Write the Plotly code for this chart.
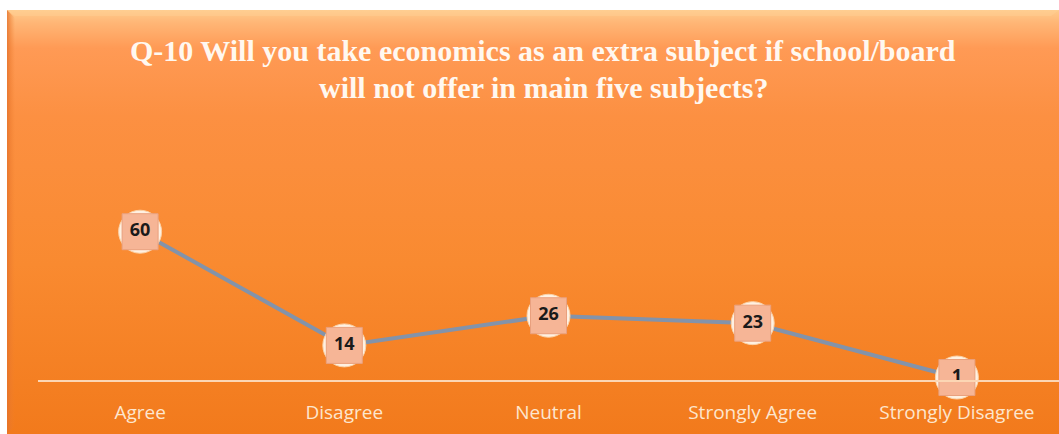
import base64
import plotly.graph_objects as go

categories = ["Agree", "Disagree", "Neutral", "Strongly Agree", "Strongly Disagree"]
values = [60, 14, 26, 23, 1]
title_lines = ["Q-10 Will you take economics as an extra subject if school/board",
               "will not offer in main five subjects?"]

W, H = 1059, 434
ML, MR, MT, MB = 38, 0, 207, 54
YMAX = 70

svg = f'''<svg xmlns="http://www.w3.org/2000/svg" width="1052" height="424" viewBox="0 0 1052 424" preserveAspectRatio="none">
<defs>
<linearGradient id="v" x1="0" y1="0" x2="0" y2="1">
<stop offset="0" stop-color="#FFCB8C"/>
<stop offset="0.03" stop-color="#FFB676"/>
<stop offset="0.09" stop-color="#FF9A55"/>
<stop offset="0.25" stop-color="#FC9042"/>
<stop offset="0.6" stop-color="#F98A30"/>
<stop offset="1" stop-color="#F27A1C"/>
</linearGradient>
<linearGradient id="l" x1="0" y1="0" x2="1" y2="0">
<stop offset="0" stop-color="#E4712A" stop-opacity="0.8"/>
<stop offset="1" stop-color="#F08030" stop-opacity="0"/>
</linearGradient>
</defs>
<rect x="0" y="0" width="1052" height="424" fill="url(#v)"/>
<polygon points="0,0 8,8 8,416 0,424" fill="url(#l)"/>
<polygon points="0,0 1052,0 1044,6 8,6" fill="#FFD39A" fill-opacity="0.35"/>
</svg>'''
src = "data:image/svg+xml;base64," + base64.b64encode(svg.encode()).decode()

pw = W - ML - MR
ph = H - MT - MB

fig = go.Figure()
fig.add_trace(go.Scatter(
    x=categories, y=values, mode="lines",
    line=dict(color="#8393AA", width=4), hoverinfo="skip", cliponaxis=False))
fig.add_trace(go.Scatter(
    x=categories, y=values, mode="markers",
    marker=dict(symbol="circle", size=43, color="#FFF1E2",
                line=dict(color="#FBD2A8", width=1)),
    hoverinfo="skip", cliponaxis=False))
fig.add_trace(go.Scatter(
    x=categories, y=values, mode="markers",
    marker=dict(symbol="circle", size=32, color="#F9A866", line=dict(width=0)),
    hoverinfo="skip", cliponaxis=False))
fig.add_trace(go.Scatter(
    x=categories, y=values, mode="markers+text",
    marker=dict(symbol="square", size=36, color="#F6B596",
                line=dict(color="#E9A07E", width=1)),
    text=[str(v) for v in values], textposition="middle center",
    textfont=dict(family="Open Sans", size=18, color="#1A1A1A", weight="bold"),
    hoverinfo="skip", cliponaxis=False))

annotations = []
for line, yc in zip(title_lines, [50, 88]):
    annotations.append(dict(
        text=f"<b>{line}</b>", x=(543 - ML) / pw, xref="paper",
        y=(H - MB - yc) / ph, yref="paper", xanchor="center", yanchor="middle",
        showarrow=False,
        font=dict(family="Liberation Serif", size=30, color="#FFF8F0")))

fig.update_layout(
    width=W, height=H,
    margin=dict(l=ML, r=MR, t=MT, b=MB, pad=0),
    paper_bgcolor="#FFFFFF", plot_bgcolor="rgba(0,0,0,0)",
    showlegend=False,
    images=[dict(source=src, xref="paper", yref="paper",
                 x=(7 - ML) / pw, y=(H - MB - 10) / ph,
                 sizex=(W - 7) / pw, sizey=(H - 10) / ph,
                 xanchor="left", yanchor="top", sizing="stretch", layer="below")],
    annotations=annotations,
    xaxis=dict(range=[-0.5, 4.5], showgrid=False, zeroline=False,
               showline=True, linecolor="#FCD6B4", linewidth=2,
               ticks="outside", ticklen=14, tickcolor="rgba(0,0,0,0)",
               tickfont=dict(family="Open Sans", size=19, color="#FDE6CE"),
               fixedrange=True),
    yaxis=dict(range=[0, YMAX], visible=False, fixedrange=True),
)

fig.write_html("out.html", config={"displayModeBar": False},
               post_script="document.body.style.margin='0';document.body.style.overflow='hidden';")
